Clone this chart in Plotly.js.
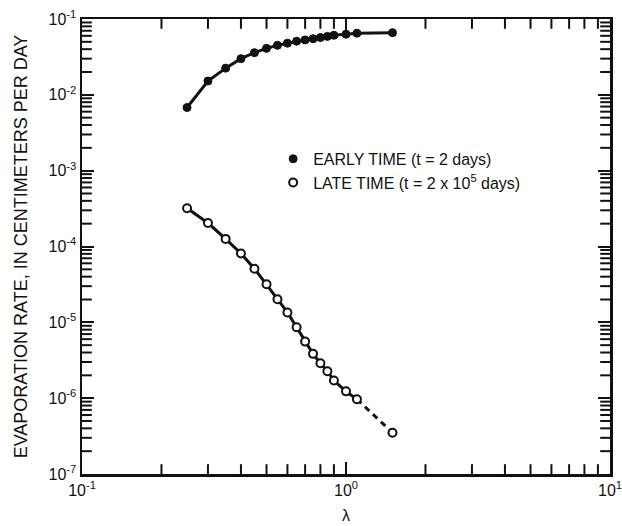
<!DOCTYPE html>
<html>
<head>
<meta charset="utf-8">
<script src="https://cdn.plot.ly/plotly-3.0.1.min.js"></script>
<style>html,body{margin:0;padding:0;background:#fff;}#chart{width:622px;height:526px;}</style>
</head>
<body>
<div id="chart"></div>
<script>
// Dimensionless parameter lambda
const lambdaVals = [0.25,0.3,0.35,0.4,0.45,0.5,0.55,0.6,0.65,0.7,0.75,0.8,0.85,0.9,1.0,1.1,1.5];
// Evaporation rate, cm/day
const earlyTime = [0.0068,0.0152,0.0225,0.030,0.036,0.041,0.045,0.048,0.051,0.053,0.055,0.057,0.059,0.061,0.063,0.065,0.066];
const lateTime = [3.2e-4,2.04e-4,1.26e-4,8.1e-5,5.1e-5,3.18e-5,2.02e-5,1.35e-5,8.6e-6,5.57e-6,3.84e-6,2.89e-6,2.27e-6,1.71e-6,1.23e-6,9.7e-7,3.5e-7];
// Index where the late-time curve turns dashed (extrapolated)
const lateDashFrom = 15;

const xRange = [0.1, 10];
const yRange = [1e-7, 1e-1];
const xMajor = [0.1,1,10];
const xMajorText = ['10<sup>-1</sup>','10<sup>0</sup>','10<sup>1</sup>'];
const yMajor = [1e-7,1e-6,1e-5,1e-4,1e-3,1e-2,1e-1];
const yMajorText = ['10<sup>-7</sup>','10<sup>-6</sup>','10<sup>-5</sup>','10<sup>-4</sup>','10<sup>-3</sup>','10<sup>-2</sup>','10<sup>-1</sup>'];
const legendNames = ['EARLY TIME (t = 2 days)','LATE TIME (t = 2 x 10<sup>5</sup> days)'];

function minorVals(lo, hi){
  const out=[];
  for(let e=lo;e<hi;e++){ for(let m=2;m<=9;m++){ out.push(m*Math.pow(10,e)); } }
  return out;
}
const xMinor = minorVals(-1, 1);
const yMinor = minorVals(-7, -1);

const black = '#111';

// Minor log ticks: half-clipped line markers sitting on the frame (axis decoration)
function tickTrace(xs, ys, sym){
  return {x: xs, y: ys, mode:'markers', cliponaxis:true, showlegend:false, hoverinfo:'skip',
    marker:{symbol:sym, size:14, color:black, line:{color:black, width:2}}};
}
const minorTraces = [
  tickTrace(xMinor, xMinor.map(() => yRange[0]), 'line-ns-open'),
  tickTrace(xMinor, xMinor.map(() => yRange[1]), 'line-ns-open'),
  tickTrace(yMinor.map(() => xRange[0]), yMinor, 'line-ew-open'),
  tickTrace(yMinor.map(() => xRange[1]), yMinor, 'line-ew-open')
];

const traces = minorTraces.concat([
  {x: lambdaVals, y: earlyTime, mode: 'lines', line:{color:black,width:3}, showlegend:false, hoverinfo:'skip'},
  {x: lambdaVals, y: earlyTime, mode: 'markers', name: legendNames[0],
   marker:{symbol:'circle',size:8,color:black,line:{color:black,width:1}}},
  {x: lambdaVals.slice(0, lateDashFrom+1), y: lateTime.slice(0, lateDashFrom+1), mode:'lines',
   line:{color:black,width:3}, showlegend:false, hoverinfo:'skip'},
  {x: lambdaVals.slice(lateDashFrom), y: lateTime.slice(lateDashFrom), mode:'lines',
   line:{color:black,width:3,dash:'6px,5px'}, showlegend:false, hoverinfo:'skip'},
  {x: lambdaVals, y: lateTime, mode: 'markers', name: legendNames[1],
   marker:{symbol:'circle',size:8,color:'#fff',line:{color:black,width:2}}}
]);

const axisCommon = {
  type:'log', showgrid:false, zeroline:false, showline:true, linecolor:black, linewidth:2.5,
  mirror:'allticks', ticks:'inside', ticklen:12, tickwidth:2, tickcolor:black,
  tickmode:'array', tickfont:{size:16,color:black}, ticklabeloverflow:'allow', autorange:false
};

const layout = {
  width:622, height:526,
  margin:{l:82,r:12,t:19,b:52},
  paper_bgcolor:'#fff', plot_bgcolor:'#fff',
  font:{family:'"Liberation Sans", Arial, Helvetica, sans-serif', color:black},
  xaxis: Object.assign({}, axisCommon, {
    range:xRange.map(Math.log10), tickvals:xMajor, ticktext:xMajorText,
    title:{text:'λ', font:{size:16,color:black}, standoff:12}
  }),
  yaxis: Object.assign({}, axisCommon, {
    range:yRange.map(Math.log10), tickvals:yMajor, ticktext:yMajorText,
    title:{text:'EVAPORATION RATE, IN CENTIMETERS PER DAY', font:{size:18,color:black}, standoff:16}
  }),
  legend:{x:0.362, y:0.73, xanchor:'left', yanchor:'top', bgcolor:'rgba(0,0,0,0)',
    font:{size:16,color:black}, itemwidth:30, tracegroupgap:0},
  showlegend:true
};

Plotly.newPlot('chart', traces, layout, {displayModeBar:false, staticPlot:true});
</script>
</body>
</html>
